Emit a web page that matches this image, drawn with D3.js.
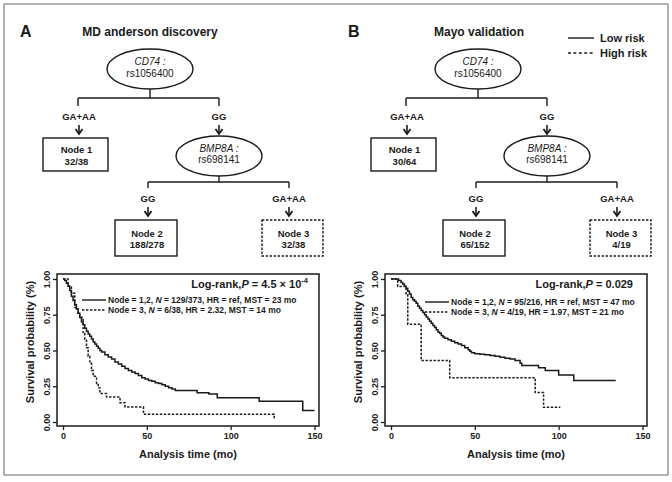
<!DOCTYPE html>
<html>
<head>
<meta charset="utf-8">
<script src="https://cdn.jsdelivr.net/npm/d3@7"></script>
<style>
  body { margin: 0; background: #fff; }
  svg { display: block; font-family: "Liberation Sans", Arial, sans-serif; }
</style>
</head>
<body>
<div id="chart"></div>
<script>
// panels
const panelLetters = ["A", "B"];
const panelTitles = ["MD anderson discovery", "Mayo validation"];

// tree
const rootGene = "CD74 :";
const rootSnp = "rs1056400";
const splitGene = "BMP8A :";
const splitSnp = "rs698141";
const rootBranches = ["GA+AA", "GG"];
const splitBranches = ["GG", "GA+AA"];
const nodeNames = ["Node 1", "Node 2", "Node 3"];
const nodeCountsA = ["32/38", "188/278", "32/38"];
const nodeCountsB = ["30/64", "65/152", "4/19"];
const nodeHighRisk = [false, false, true];

// risk legend
const riskLabels = ["Low risk", "High risk"];

// axes
const xTicks = [0, 50, 100, 150];
const yTicks = [0, 0.25, 0.5, 0.75, 1];
const xTitle = "Analysis time (mo)";
const yTitle = "Survival probability (%)";

// log-rank and curve legends
const pValuesA = ["4.5 \u00d7 10", "-4"];
const pValuesB = ["0.029", ""];
const legendLowA = ["Node = 1,2, ", "N", " = 129/373, HR = ref, MST = 23 mo"];
const legendHighA = ["Node = 3, ", "N", " = 6/38, HR = 2.32, MST = 14 mo"];
const legendLowB = ["Node = 1,2, ", "N", " = 95/216, HR = ref, MST = 47 mo"];
const legendHighB = ["Node = 3, ", "N", " = 4/19, HR = 1.97, MST = 21 mo"];

// Kaplan-Meier steps (time in months, survival after that time); last entry = end of follow-up
const lowTimesA = [0, 1, 2, 3, 4, 5, 6, 7, 8, 9, 10, 11, 12, 13, 14, 15, 16, 17, 18, 19, 20, 21, 22, 23, 25, 27, 29, 31, 33, 35, 37, 39, 41, 43, 45, 47, 49, 51, 53, 55, 57, 59, 61, 63, 65, 67, 80, 87, 92, 117, 143, 150];
const lowSurvA = [1, 0.99, 0.97, 0.95, 0.92, 0.88, 0.85, 0.82, 0.79, 0.76, 0.73, 0.70, 0.68, 0.655, 0.635, 0.615, 0.60, 0.58, 0.56, 0.545, 0.53, 0.515, 0.50, 0.49, 0.47, 0.455, 0.44, 0.42, 0.405, 0.39, 0.375, 0.36, 0.35, 0.34, 0.325, 0.31, 0.30, 0.29, 0.285, 0.275, 0.27, 0.26, 0.25, 0.24, 0.23, 0.22, 0.205, 0.195, 0.17, 0.145, 0.08, 0.08];
const highTimesA = [0, 3, 5, 7, 9, 10, 12, 13, 14, 15, 16, 17, 18, 20, 21, 22, 26, 34, 37, 48, 126, 126];
const highSurvA = [1, 0.95, 0.90, 0.80, 0.76, 0.73, 0.62, 0.58, 0.52, 0.46, 0.41, 0.36, 0.32, 0.27, 0.24, 0.20, 0.175, 0.135, 0.105, 0.055, 0.02, 0.02];

const lowTimesB = [0, 4.5, 6, 7, 8, 9, 10, 11, 12, 13, 14, 15, 16, 17, 18, 19, 20, 21, 22, 23, 24, 25, 26, 27, 28, 29, 30, 31, 32, 34, 36, 38, 40, 42, 44, 46, 47, 48, 50, 53, 56, 59, 62, 65, 68, 71, 74, 77, 78, 88, 92, 100, 109, 134];
const lowSurvB = [1, 0.99, 0.975, 0.965, 0.95, 0.935, 0.915, 0.895, 0.87, 0.855, 0.845, 0.83, 0.81, 0.795, 0.78, 0.765, 0.75, 0.735, 0.72, 0.705, 0.69, 0.675, 0.66, 0.645, 0.63, 0.62, 0.605, 0.595, 0.585, 0.575, 0.565, 0.555, 0.545, 0.535, 0.52, 0.505, 0.495, 0.485, 0.478, 0.474, 0.47, 0.465, 0.46, 0.452, 0.445, 0.44, 0.43, 0.41, 0.395, 0.38, 0.36, 0.328, 0.29, 0.29];
const highTimesB = [0, 4, 9, 10, 18, 35, 86, 91, 101];
const highSurvB = [1, 0.947, 0.895, 0.684, 0.43, 0.31, 0.206, 0.103, 0.103];

const W = 672, H = 482;
const ink = "#1a1a1a";
const dash = "2.4,1.6";

const svg = d3.select("#chart").append("svg")
  .attr("width", W)
  .attr("height", H)
  .attr("viewBox", [0, 0, W, H]);

svg.append("rect")
  .attr("x", 4).attr("y", 4)
  .attr("width", 664).attr("height", 471)
  .attr("fill", "none")
  .attr("stroke", "#9a9a9a")
  .attr("stroke-width", 1.5);

function addText(g, x, y, parts, opts) {
  const t = g.append("text")
    .attr("x", x).attr("y", y)
    .attr("fill", ink)
    .attr("font-size", opts.size)
    .attr("font-weight", opts.weight || "bold")
    .attr("text-anchor", opts.anchor || "middle");
  if (opts.italic) t.attr("font-style", "italic");
  if (typeof parts === "string") { t.text(parts); return t; }
  parts.forEach((p, i) => {
    if (!p) return;
    const s = t.append("tspan").text(p);
    if (opts.italicIdx === i) s.attr("font-style", "italic");
  });
  return t;
}

function arrow(g, x, y0, y1) {
  g.append("line").attr("x1", x).attr("x2", x).attr("y1", y0).attr("y2", y1 - 1)
    .attr("stroke", ink).attr("stroke-width", 1.6);
  g.append("path")
    .attr("d", `M${x - 3.5},${y1 - 5}L${x},${y1}L${x + 3.5},${y1 - 5}`)
    .attr("fill", "none").attr("stroke", ink).attr("stroke-width", 1.8);
}

function drawTree(g, counts) {
  const line = (x1, y1, x2, y2) => g.append("line")
    .attr("x1", x1).attr("y1", y1).attr("x2", x2).attr("y2", y2)
    .attr("stroke", ink).attr("stroke-width", 1.4);

  // root split
  g.append("ellipse").attr("cx", 150).attr("cy", 69).attr("rx", 43).attr("ry", 20)
    .attr("fill", "#fff").attr("stroke", ink).attr("stroke-width", 1.4);
  addText(g, 150, 65, rootGene, { size: 10, weight: "normal", italic: true });
  addText(g, 150, 77, rootSnp, { size: 10, weight: "normal" });
  line(150, 89, 150, 98);
  line(78, 98, 219, 98);
  line(78, 98, 78, 106);
  line(219, 98, 219, 106);
  addText(g, 79, 120, rootBranches[0], { size: 9.5 });
  addText(g, 219, 120, rootBranches[1], { size: 9.5 });
  arrow(g, 79, 125, 134);
  arrow(g, 219, 125, 134);

  // second split
  g.append("ellipse").attr("cx", 219).attr("cy", 156).attr("rx", 43).attr("ry", 20)
    .attr("fill", "#fff").attr("stroke", ink).attr("stroke-width", 1.4);
  addText(g, 219, 152, splitGene, { size: 10, weight: "normal", italic: true });
  addText(g, 219, 163, splitSnp, { size: 10, weight: "normal" });
  line(219, 176, 219, 182);
  line(148, 182, 289, 182);
  line(148, 182, 148, 188);
  line(289, 182, 289, 188);
  addText(g, 148, 202, splitBranches[0], { size: 9.5 });
  addText(g, 289, 202, splitBranches[1], { size: 9.5 });
  arrow(g, 148, 207, 216);
  arrow(g, 289, 207, 216);

  // terminal nodes
  const boxes = [
    { x: 43, y: 138, w: 65, h: 33 },
    { x: 115, y: 220, w: 62, h: 36 },
    { x: 262, y: 220, w: 61, h: 36 }
  ];
  boxes.forEach((b, i) => {
    g.append("rect").attr("x", b.x).attr("y", b.y).attr("width", b.w).attr("height", b.h)
      .attr("fill", "#fff").attr("stroke", ink).attr("stroke-width", 1.4)
      .attr("stroke-dasharray", nodeHighRisk[i] ? dash : null);
    const cx = b.x + b.w / 2 + 1;
    const cy = b.y + b.h / 2;
    addText(g, cx, cy - 1.5, nodeNames[i], { size: 9.5 });
    addText(g, cx, cy + 10, counts[i], { size: 9.5 });
  });
}

function drawKM(g, cfg) {
  const left = 57, right = 319, top = 274, bottom = 426;
  const x = d3.scaleLinear().domain([0, 150]).range([63, 314.5]);
  const y = d3.scaleLinear().domain([0, 1]).range([422, 279]);

  const xAxis = g.append("g").attr("transform", `translate(0,${bottom})`)
    .call(d3.axisBottom(x).tickValues(xTicks).tickSize(4).tickPadding(3).tickFormat(d3.format("d")));
  const yAxis = g.append("g").attr("transform", `translate(${left},0)`)
    .call(d3.axisLeft(y).tickValues(yTicks).tickSize(4).tickPadding(3).tickFormat(d3.format(".2f")));
  [xAxis, yAxis].forEach(a => {
    a.select(".domain").remove();
    a.selectAll("line").attr("stroke", ink).attr("stroke-width", 1.3);
    a.selectAll("text").attr("fill", ink).attr("font-size", 9).attr("font-weight", "bold")
      .attr("font-family", "Liberation Sans, Arial, sans-serif");
  });
  // y tick labels read bottom-to-top, centred on each tick
  yAxis.selectAll(".tick text")
    .attr("text-anchor", "middle")
    .attr("x", 0).attr("y", 0).attr("dy", 0)
    .attr("transform", "translate(-7,0) rotate(-90)");

  g.append("rect").attr("x", left).attr("y", top)
    .attr("width", right - left).attr("height", bottom - top)
    .attr("fill", "none").attr("stroke", ink).attr("stroke-width", 1.5);

  const km = d3.line().curve(d3.curveStepAfter).x(d => x(d[0])).y(d => y(d[1]));
  g.append("path").datum(d3.zip(cfg.highT, cfg.highS)).attr("d", km)
    .attr("fill", "none").attr("stroke", ink).attr("stroke-width", 1.5).attr("stroke-dasharray", dash);
  g.append("path").datum(d3.zip(cfg.lowT, cfg.lowS)).attr("d", km)
    .attr("fill", "none").attr("stroke", ink).attr("stroke-width", 1.5);

  // axis titles
  addText(g, 188, 458, xTitle, { size: 11 });
  addText(g, 0, 0, yTitle, { size: 11 })
    .attr("transform", "translate(34,342) rotate(-90)");

  // log-rank
  const lr = addText(g, right - cfg.lrInset, 288, ["Log-rank,", "P", " = " + cfg.p[0]], { size: 11, anchor: "end", italicIdx: 1 });
  if (cfg.p[1]) lr.append("tspan").attr("font-size", 7.5).attr("dy", -5).text(cfg.p[1]);

  // curve legend
  const lx = left + cfg.legendDx;
  g.append("line").attr("x1", lx).attr("x2", lx + 24).attr("y1", cfg.legendY).attr("y2", cfg.legendY)
    .attr("stroke", ink).attr("stroke-width", 1.4);
  g.append("line").attr("x1", lx).attr("x2", lx + 24).attr("y1", cfg.legendY + 10).attr("y2", cfg.legendY + 10)
    .attr("stroke", ink).attr("stroke-width", 1.4).attr("stroke-dasharray", dash);
  addText(g, lx + 26, cfg.legendY + 3, cfg.lowLegend, { size: 8.5, anchor: "start", italicIdx: 1 });
  addText(g, lx + 26, cfg.legendY + 13, cfg.highLegend, { size: 8.5, anchor: "start", italicIdx: 1 });
}

const panels = [
  { dx: 0, counts: nodeCountsA, p: pValuesA, lowT: lowTimesA, lowS: lowSurvA, highT: highTimesA, highS: highSurvA,
    lowLegend: legendLowA, highLegend: legendHighA, legendDx: 25, legendY: 300, lrInset: 11 },
  { dx: 328, counts: nodeCountsB, p: pValuesB, lowT: lowTimesB, lowS: lowSurvB, highT: highTimesB, highS: highSurvB,
    lowLegend: legendLowB, highLegend: legendHighB, legendDx: 40, legendY: 302, lrInset: 14 }
];

panels.forEach((p, i) => {
  const g = svg.append("g").attr("transform", `translate(${p.dx},0)`);
  addText(g, 20, 37, panelLetters[i], { size: 16, anchor: "start" });
  addText(g, i === 0 ? 150 : 151, 36, panelTitles[i], { size: 12 });
  drawTree(g, p.counts);
  drawKM(g, p);
});

// risk legend (top right)
const rl = svg.append("g");
[0, 1].forEach(i => {
  const yy = 38 + i * 15;
  rl.append("line").attr("x1", 568).attr("x2", 594).attr("y1", yy).attr("y2", yy)
    .attr("stroke", ink).attr("stroke-width", 1.4)
    .attr("stroke-dasharray", i ? "3,2.4" : null);
  addText(rl, 600, yy + 4, riskLabels[i], { size: 11, anchor: "start" });
});
</script>
</body>
</html>
